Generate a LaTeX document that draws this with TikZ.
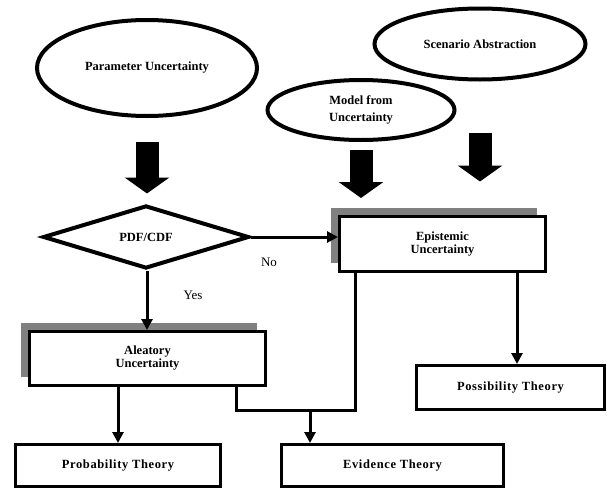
\documentclass[tikz,border=0pt]{standalone}
\usepackage{fontspec}
\setmainfont{Liberation Serif}
\usetikzlibrary{arrows.meta,shapes.geometric,shadows}
\definecolor{shadowgray}{RGB}{128,128,128}
\tikzset{
    >=Triangle,
    ellip/.style={ellipse,draw,line width=4pt,inner sep=0pt,align=center,font=\fontsize{12.5}{17}\selectfont\bfseries},
    decision/.style={diamond,draw,line width=4pt,inner sep=0pt,font=\fontsize{12.5}{14}\selectfont\bfseries},
    block/.style={rectangle,draw,fill=white,line width=3pt,inner sep=0pt,align=center,font=\fontsize{12.5}{13}\selectfont\bfseries},
    shadowblock/.style={block,drop shadow={shadow xshift=-9pt,shadow yshift=9pt,fill=shadowgray,opacity=1}},
    theory/.style={block,font=\fontsize{12.5}{13}\selectfont\bfseries\addfontfeature{LetterSpace=5}},
    label/.style={font=\fontsize{13}{14}\selectfont},
    flow/.style={line width=3pt,-{Triangle[length=11pt,width=11pt]}},
    bigarrow/.style={line width=23pt,-{Triangle[length=16pt,width=44pt]}},
}

\begin{document}
\begin{tikzpicture}[x=1pt,y=-1pt]
    \useasboundingbox (0,0) rectangle (607,490);

    % sources of uncertainty
    \node[ellip,minimum width=220pt,minimum height=96pt] (param) at (147,68) {Parameter Uncertainty};
    \node[ellip,minimum width=187pt,minimum height=60pt] (model) at (361,110) {Model from\\Uncertainty};
    \node[ellip,minimum width=211pt,minimum height=71pt] (scen) at (480,44) {Scenario Abstraction};

    \node[decision,minimum width=206pt,minimum height=63pt] (pdf) at (146,237) {PDF/CDF};

    \node[shadowblock,minimum width=206pt,minimum height=55pt] (epis) at (442.5,244) {Epistemic\\Uncertainty};
    \node[shadowblock,minimum width=236pt,minimum height=54pt] (alea) at (147.5,358.5) {Aleatory\\Uncertainty};

    % theories
    \node[theory,minimum width=205pt,minimum height=42pt] (prob) at (118,465.5) {Probability Theory};
    \node[theory,minimum width=222pt,minimum height=42pt] (evid) at (392.5,465.5) {Evidence Theory};
    \node[theory,minimum width=188pt,minimum height=44pt] (poss) at (510.5,387.5) {Possibility Theory};

    \node[label] (no) at (269,262) {No};
    \node[label] (yes) at (193,295) {Yes};

    \draw[bigarrow] ([yshift=-24pt]param.south) -- ([yshift=10pt]param.south |- pdf.north);
    \draw[bigarrow] ([yshift=-8pt]model.south) -- ++(0,48);
    \draw[bigarrow] ([yshift=-51pt]scen.south) -- ++(0,49);

    \draw[flow] (pdf.east) -- (epis.west |- pdf.east);
    \draw[flow] (pdf.south -| param.south) -- (param.south |- alea.north);
    \draw[flow] (prob.north |- alea.south) -- (prob.north);
    \draw[flow] ([xshift=74.5pt]epis.south) -- ([xshift=74.5pt]epis.south |- poss.north);

    \coordinate (join) at (310,410);
    \draw[line width=3pt] ([xshift=-87.5pt]epis.south) |- (join) -| ([xshift=88.5pt]alea.south);
    \draw[flow] (join) -- (join |- evid.north);
\end{tikzpicture}
\end{document}
